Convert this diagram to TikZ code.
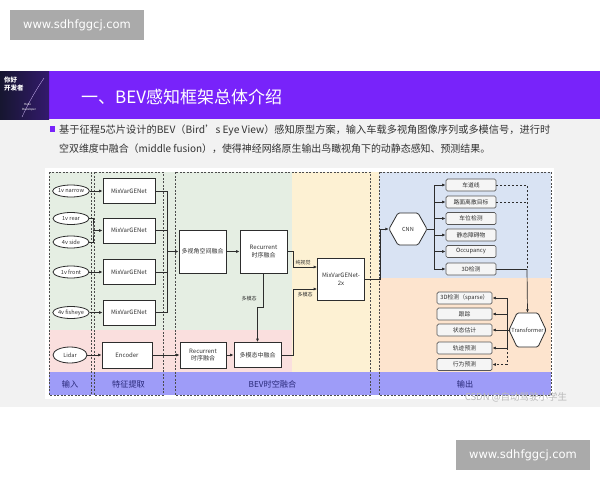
\documentclass[tikz,border=0pt]{standalone}
\usepackage{fontspec}
\usepackage{graphicx}
\setmainfont{Liberation Sans}
\newfontfamily\cjk{Noto Sans CJK SC}
\usetikzlibrary{shapes.geometric,arrows.meta}
\definecolor{hdrpurple}{RGB}{120,35,250}
\definecolor{slidebg}{RGB}{242,242,242}
\definecolor{wmgray}{RGB}{170,170,170}
\definecolor{bggreen}{RGB}{229,238,227}
\definecolor{bgpink}{RGB}{250,223,222}
\definecolor{bgyellow}{RGB}{253,241,211}
\definecolor{bgblue}{RGB}{217,227,243}
\definecolor{bgpeach}{RGB}{253,228,206}
\definecolor{barpurple}{RGB}{158,156,248}
\definecolor{barnavy}{RGB}{40,40,120}
\definecolor{lnc}{RGB}{45,45,45}
\definecolor{txtc}{RGB}{50,50,50}
\definecolor{darkimg}{RGB}{22,22,48}
\tikzset{
  f/.style={font=\cjk\pgfmathsetmacro\fbs{#1*1.25}\fontsize{#1}{\fbs}\selectfont},
  ell/.style={ellipse, draw=lnc, line width=0.8pt, fill=white, minimum width=36pt, minimum height=12pt, inner sep=0pt, f=5.6, text=txtc},
  netbox/.style={rectangle, draw=lnc, line width=0.7pt, fill=white, minimum width=52pt, minimum height=25pt, inner sep=0pt, f=6, text=txtc, align=center},
  outbox/.style={rectangle, rounded corners=1.5pt, draw=lnc!80, line width=0.7pt, fill=white!96!black, minimum width=50pt, minimum height=12pt, inner sep=0pt, f=5.8, text=txtc},
  hexlab/.style={rectangle, minimum width=38pt, minimum height=32pt, inner sep=0pt, f=5.6, text=txtc},
  hexdraw/.style={draw=lnc, line width=0.8pt, fill=white, rounded corners=1.5pt},
  arr/.style={-{Latex[length=3.5pt,width=3pt]}, draw=lnc, line width=0.7pt},
  ln/.style={draw=lnc, line width=0.7pt},
  dln/.style={draw=lnc, line width=0.7pt, dash pattern=on 2pt off 2pt},
  colframe/.style={draw=black!70, line width=0.6pt, dash pattern=on 2pt off 1.5pt},
  smalllab/.style={f=5, text=txtc, inner sep=0pt},
  barlab/.style={f=8.2, text=barnavy, inner sep=0pt},
  wm/.style={fill=wmgray, text=white, minimum width=134pt, minimum height=30pt, inner sep=0pt, font=\fontspec{DejaVu Sans}\fontsize{11.5}{13}\selectfont}
}
\begin{document}
\begin{tikzpicture}[x=1pt,y=-1pt]
\useasboundingbox (0,0) rectangle (600,480);
\fill[white] (0,0) rectangle (600,480);
% slide
\fill[slidebg] (0,119) rectangle (600,407);
\fill[hdrpurple] (0,71) rectangle (600,119);
\shade[left color=darkimg, right color=darkimg!70!hdrpurple] (0,71) rectangle (49,119);
\draw[white!70!hdrpurple, line width=0.3pt] (22,117) .. controls (30,100) and (36,90) .. (44,78);
\node[anchor=west, text=white, inner sep=0pt, font=\cjk\bfseries\fontsize{6.5}{7}\selectfont] (hi1) at (4,80) {你好};
\node[anchor=west, text=white, inner sep=0pt, font=\cjk\bfseries\fontsize{6.5}{7}\selectfont] (hi2) at (4,88.5) {开发者};
\node[anchor=west, text=white, inner sep=0pt, font=\fontsize{3}{3.5}\selectfont] (hel) at (24,104) {Hello};
\node[anchor=west, text=white, inner sep=0pt, font=\fontsize{3}{3.5}\selectfont] (dev) at (22,110) {Developer};
\node[anchor=west, text=white, inner sep=0pt, f=17] (title) at (81,97) {一、BEV感知框架总体介绍};
\fill[hdrpurple] (50,126) rectangle (55,132);
\node[anchor=west, text=txtc, inner sep=0pt, f=10.1] (l1) at (59,130.5) {\resizebox{491pt}{\height}{基于征程5芯片设计的BEV（Bird’s Eye View）感知原型方案，输入车载多视角图像序列或多模信号，进行时}};
\node[anchor=west, text=txtc, inner sep=0pt, f=10.1] (l2) at (59,148.5) {\resizebox{431pt}{\height}{空双维度中融合（middle fusion），使得神经网络原生输出鸟瞰视角下的动静态感知、预测结果。}};
% diagram panel
\fill[white] (45,168) rectangle (554,399);
% backgrounds
\fill[bggreen] (49,172) rectangle (292,330);
\fill[bgpink] (49,330) rectangle (292,372);
\fill[bgyellow] (292,172) rectangle (379,372);
\fill[bgblue] (379,172) rectangle (551,278);
\fill[bgpeach] (379,278) rectangle (551,372);
\fill[barpurple] (49,372) rectangle (551,395);
% column frames
\draw[colframe] (49,172) rectangle (91,395);
\draw[colframe] (94,172) rectangle (163,395);
\draw[colframe] (175,172) rectangle (370,395);
\draw[colframe] (379,172) rectangle (551,395);
\node[barlab] (bl1) at (70,384) {输入};
\node[barlab] (bl2) at (128.5,384) {特征提取};
\node[barlab] (bl3) at (272.5,384) {BEV时空融合};
\node[barlab] (bl4) at (465,384) {输出};
% inputs
\node[ell] (in1) at (71,191) {1v narrow};
\node[ell] (in2) at (71,218.5) {1v rear};
\node[ell] (in3) at (71,242) {4v side};
\node[ell] (in4) at (71,272) {1v front};
\node[ell] (in5) at (71,312.5) {4v fisheye};
\node[ell, minimum width=34pt, minimum height=16pt] (lid) at (70,355) {Lidar};
% feature extraction
\node[netbox] (m1) at (129,191) {MixVarGENet};
\node[netbox] (m2) at (129,230.5) {MixVarGENet};
\node[netbox] (m3) at (129,272) {MixVarGENet};
\node[netbox] (m4) at (129,312.5) {MixVarGENet};
\node[netbox, minimum width=50pt, minimum height=26pt] (enc) at (127,355) {Encoder};
% fusion
\node[netbox, minimum width=47pt, minimum height=43pt] (sp) at (202.5,251.5) {多视角空间融合};
\node[netbox, minimum width=47pt, minimum height=43pt] (rt) at (263.5,251.5) {Recurrent\\时序融合};
\node[netbox, minimum width=46pt, minimum height=26pt] (rb) at (203,355) {Recurrent\\时序融合};
\node[netbox, minimum width=47pt, minimum height=25pt] (mm) at (257.5,355) {多模态中融合};
\node[netbox, minimum width=47pt, minimum height=42pt] (mx) at (341,279) {MixVarGENet-\\2x};
% output: hexagons
\coordinate (cnnc) at (408,229);
\draw[hexdraw, shift={(cnnc)}] (-19,0) -- (-10,-16) -- (10,-16) -- (19,0) -- (10,16) -- (-10,16) -- cycle;
\node[hexlab] (cnn) at (cnnc) {CNN};
\coordinate (tfc) at (527.5,330);
\draw[hexdraw, shift={(tfc)}] (-18.5,0) -- (-10.5,-17) -- (10.5,-17) -- (18.5,0) -- (10.5,17) -- (-10.5,17) -- cycle;
\node[hexlab, minimum width=37pt, minimum height=34pt] (tf) at (tfc) {Transformer};
\node[outbox] (o1) at (471,185) {车道线};
\node[outbox] (o2) at (471,202) {路面离散目标};
\node[outbox] (o3) at (471,218.5) {车位检测};
\node[outbox] (o4) at (471,235) {静态障碍物};
\node[outbox] (o5) at (471,251.5) {Occupancy};
\node[outbox] (o6) at (471,269) {3D检测};
\node[outbox, minimum width=55pt] (p1) at (464.5,298) {3D检测（sparse）};
\node[outbox, minimum width=55pt] (p2) at (464.5,314) {跟踪};
\node[outbox, minimum width=55pt] (p3) at (464.5,330) {状态估计};
\node[outbox, minimum width=55pt] (p4) at (464.5,348) {轨迹预测};
\node[outbox, minimum width=55pt] (p5) at (464.5,364.5) {行为预测};
% coordinates
\coordinate (j1) at (93,230.5);
\coordinate (bt) at (167,191);
\coordinate (bb) at (167,312.5);
\coordinate (bm) at (167,251.5);
\coordinate (c1) at (293,251.5);
\coordinate (c2) at (293,267);
\coordinate (d1) at (263.5,307);
\coordinate (d2) at (257.5,307);
\coordinate (e1) at (293,355);
\coordinate (e2) at (293,289);
\coordinate (g1) at (380,279);
\coordinate (g2) at (380,229);
\coordinate (h1) at (434,229);
\coordinate (ht) at (434,185);
\coordinate (hb) at (434,269);
\coordinate (k1) at (527,185);
\coordinate (k2) at (527,202);
\coordinate (k3) at (527,269);
\coordinate (t1) at (507,330);
\coordinate (tt) at (507,298);
\coordinate (tb) at (507,348);
\coordinate (tp) at (507,364.5);
% connectors: inputs
\draw[arr] (in1) -- (m1);
\draw[ln] (in2.east) -| (j1) |- (in3.east);
\draw[arr] (j1) -- (m2.west);
\draw[arr] (in4) -- (m3);
\draw[arr] (in5) -- (m4);
\draw[arr] (lid) -- (enc);
% feature bus
\draw[ln] (m1.east) -- (bt) -- (bb) -- (m4.east);
\draw[ln] (m2.east) -- (m2.east -| bt);
\draw[ln] (m3.east) -- (m3.east -| bt);
\draw[arr] (bm) -- (sp.west);
\draw[arr] (sp) -- (rt);
\draw[ln] (rt.east) -- (c1) -- (c2);
\draw[arr] (c2) -- (c2 -| mx.west);
\node[smalllab] (lb1) at (303,263) {纯视觉};
\draw[ln] (rt.south) -- (d1) -- (d2);
\draw[arr] (d2) -- (mm.north);
\node[smalllab] (lb2) at (249,299) {多模态};
\draw[arr] (enc) -- (rb);
\draw[arr] (rb) -- (mm);
\draw[ln] (mm.east) -- (e1) -- (e2);
\draw[arr] (e2) -- (e2 -| mx.west);
\node[smalllab] (lb3) at (305,295) {多模态};
\draw[ln] (mx.east |- g1) -- (g1) -- (g2);
\draw[arr] (g2) -- (cnn.west);
% cnn outputs
\draw[ln] (cnn.east) -- (h1);
\draw[ln] (ht) -- (hb);
\foreach \o in {o1,o2,o3,o4,o5,o6}{
  \draw[arr] (\o.west -| h1) -- (\o.west);
}
\draw[dln] (o1.east) -- (k1) -- (k3);
\draw[dln] (o2.east) -- (k2);
\draw[ln] (o6.east) -- (k3);
\draw[arr] (k3) -- (tf.north);
% transformer outputs
\draw[ln] (tf.west) -- (t1);
\draw[ln] (tt) -- (tb);
\foreach \p in {p1,p2,p3,p4}{
  \draw[arr] (\p.east -| t1) -- (\p.east);
}
\draw[dln] (tb) -- (tp);
\draw[dln, -{Latex[length=3.5pt,width=3pt]}] (tp) -- (p5.east);
% watermarks
\node[text=white!72!black, inner sep=0pt, f=9.5] (csdn) at (516,397) {CSDN @自动驾驶小学生};
\node[wm] (wm1) at (77,25) {www.sdhfggcj.com};
\node[wm] (wm2) at (523,455) {www.sdhfggcj.com};
\end{tikzpicture}
\end{document}
